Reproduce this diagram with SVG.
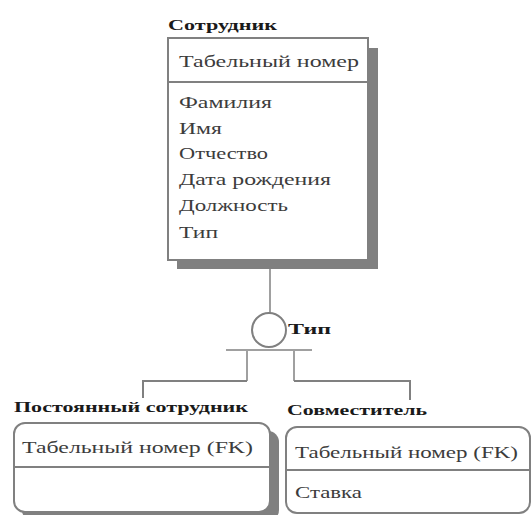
<svg xmlns="http://www.w3.org/2000/svg" width="531" height="515" viewBox="0 0 531 515">
<style>
.box{fill:#fff;stroke:#808080;stroke-width:2}
.shadow{fill:#808080;stroke:none}
.div{stroke:#808080;stroke-width:2}
.t{font-family:"Liberation Serif",serif;font-size:17px;fill:#3c3c3c}
.lbl{font-family:"Liberation Serif",serif;font-size:15px;font-weight:bold;fill:#1a1a1a}
.conn{fill:none;stroke:#a0a0a0;stroke-width:2}
.conn2{fill:none;stroke:#808080;stroke-width:2}
</style>
<rect width="531" height="515" fill="#fff"/>
<g id="employee">
<text class="lbl" x="168" y="30" textLength="109" lengthAdjust="spacingAndGlyphs">Сотрудник</text>
<rect class="shadow" x="177" y="48" width="201" height="221"/>
<rect class="box" x="168" y="38" width="200" height="222"/>
<line class="div" x1="168" y1="82" x2="368" y2="82"/>
<text class="t" x="179" y="67" textLength="180" lengthAdjust="spacingAndGlyphs">Табельный номер</text>
<text class="t" x="179" y="108" textLength="93" lengthAdjust="spacingAndGlyphs">Фамилия</text>
<text class="t" x="179" y="134" textLength="43" lengthAdjust="spacingAndGlyphs">Имя</text>
<text class="t" x="179" y="159" textLength="89" lengthAdjust="spacingAndGlyphs">Отчество</text>
<text class="t" x="179" y="185" textLength="152" lengthAdjust="spacingAndGlyphs">Дата рождения</text>
<text class="t" x="179" y="211" textLength="109" lengthAdjust="spacingAndGlyphs">Должность</text>
<text class="t" x="179" y="238" textLength="39" lengthAdjust="spacingAndGlyphs">Тип</text>
</g>
<g id="permanent">
<text class="lbl" x="14" y="412" textLength="234" lengthAdjust="spacingAndGlyphs">Постоянный сотрудник</text>
<rect class="shadow" x="22" y="431" width="257" height="90" rx="11"/>
<rect class="box" x="14" y="423" width="256" height="89" rx="11"/>
<line class="div" x1="14" y1="467" x2="270" y2="467"/>
<text class="t" x="22" y="453" textLength="231" lengthAdjust="spacingAndGlyphs">Табельный номер (FK)</text>
</g>
<g id="parttime">
<text class="lbl" x="287" y="415" textLength="140" lengthAdjust="spacingAndGlyphs">Совместитель</text>
<rect class="box" x="286" y="427" width="244" height="86" rx="11"/>
<line class="div" x1="286" y1="470" x2="530" y2="470"/>
<text class="t" x="295" y="458" textLength="223" lengthAdjust="spacingAndGlyphs">Табельный номер (FK)</text>
<text class="t" x="295" y="498" textLength="67" lengthAdjust="spacingAndGlyphs">Ставка</text>
</g>
<g id="connectors">
<line class="conn" x1="270" y1="269" x2="270" y2="313"/>
<circle cx="269" cy="330" r="17" fill="#fff" stroke="#808080" stroke-width="2"/>
<text class="lbl" x="288" y="334" textLength="43" lengthAdjust="spacingAndGlyphs">Тип</text>
<line class="conn" x1="226" y1="350" x2="312" y2="350"/>
<line class="conn" x1="247" y1="350" x2="247" y2="381"/>
<line class="conn" x1="294" y1="350" x2="294" y2="381"/>
<polyline class="conn2" points="247,381 143,381 143,398"/>
<polyline class="conn2" points="294,381 410,381 410,400"/>
</g>
</svg>
